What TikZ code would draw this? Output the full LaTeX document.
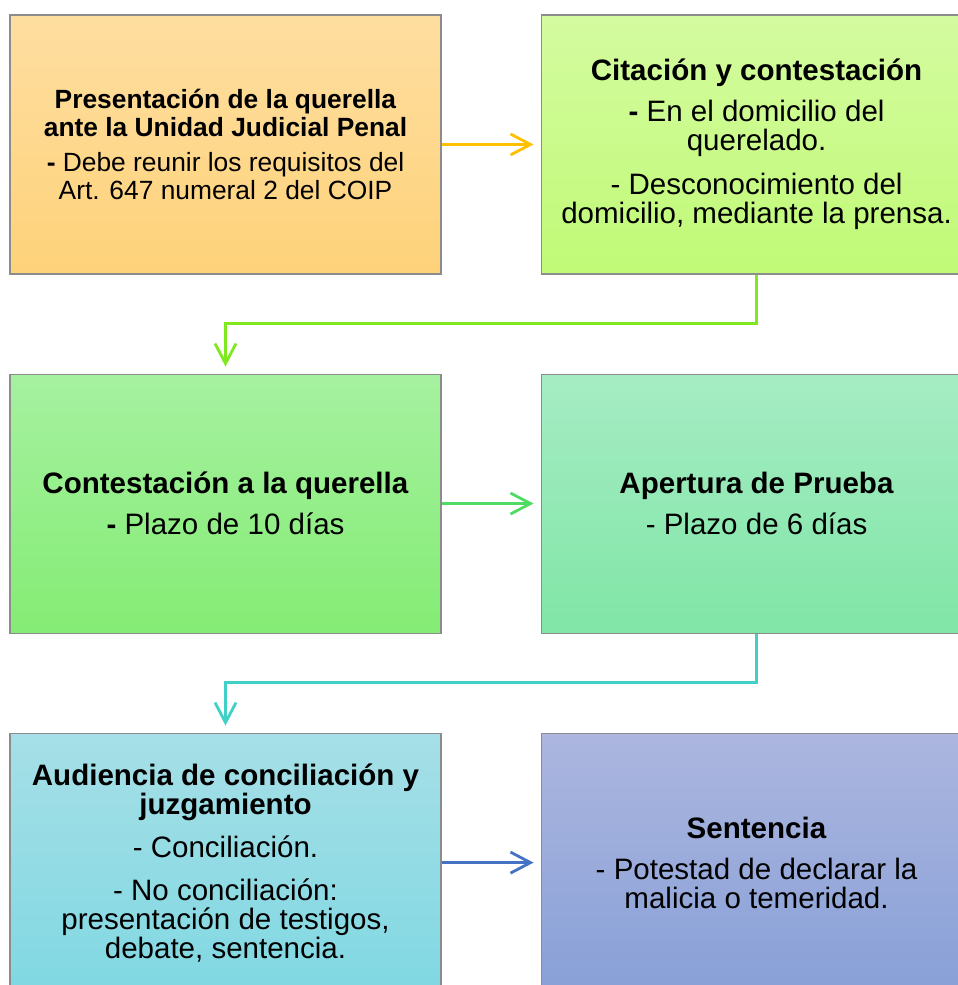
\documentclass[tikz,border=0pt]{standalone}
\usepackage{fontspec}
\setmainfont{Liberation Sans}
\usetikzlibrary{arrows.meta,positioning}
\definecolor{naranjaA}{RGB}{254,222,160}
\definecolor{naranjaB}{RGB}{254,210,122}
\definecolor{limaA}{RGB}{212,251,160}
\definecolor{limaB}{RGB}{192,250,118}
\definecolor{verdeA}{RGB}{166,241,160}
\definecolor{verdeB}{RGB}{132,236,116}
\definecolor{mentaA}{RGB}{166,236,196}
\definecolor{mentaB}{RGB}{128,230,166}
\definecolor{celesteA}{RGB}{166,223,231}
\definecolor{celesteB}{RGB}{128,216,226}
\definecolor{azulA}{RGB}{172,182,223}
\definecolor{azulB}{RGB}{136,160,215}
\definecolor{flechaNar}{RGB}{255,192,0}
\definecolor{flechaLima}{RGB}{127,232,30}
\definecolor{flechaVerde}{RGB}{80,220,100}
\definecolor{flechaTurq}{RGB}{64,208,200}
\definecolor{flechaAzul}{RGB}{68,114,196}
\tikzset{%
  >={Straight Barb[length=4mm,width=4.2mm]},
  % estilo de las cajas
        paso/.style = {rectangle, draw=black!45, line width=0.6pt,
                       minimum width=8.62cm, minimum height=5.18cm,
                       align=center, inner sep=0pt,
                       font=\fontsize{16.8}{16.5}\selectfont},
     naranja/.style = {paso, top color=naranjaA, bottom color=naranjaB,
                       font=\fontsize{15}{15.9}\selectfont},
        lima/.style = {paso, top color=limaA, bottom color=limaB},
       verde/.style = {paso, top color=verdeA, bottom color=verdeB},
       menta/.style = {paso, top color=mentaA, bottom color=mentaB},
     celeste/.style = {paso, top color=celesteA, bottom color=celesteB},
        azul/.style = {paso, top color=azulA, bottom color=azulB},
     flecha/.style = {->, line width=1.6pt, shorten >=0.14cm},
}
\begin{document}
\begin{tikzpicture}[node distance=1.98cm]
  \useasboundingbox (0,0) rectangle (19.14,-19.70);
  % cajas
  \node (pres) [naranja] at (4.51,-2.89)
    {\textbf{Presentación de la querella}\\
     \textbf{ante la Unidad Judicial Penal}\\[4.5pt]
     \textbf{-} Debe reunir los requisitos del\\
     Art. 647 numeral 2 del COIP};
  \node (cit) [lima, right=of pres]
    {\textbf{Citación y contestación}\\[7pt]
     \textbf{-} En el domicilio del\\
     querelado.\\[8.5pt]
     - Desconocimiento del\\
     domicilio, mediante la prensa.};
  \node (cont) [verde, below=of pres]
    {\textbf{Contestación a la querella}\\[7pt]
     \textbf{-} Plazo de 10 días};
  \node (prueba) [menta, right=of cont]
    {\textbf{Apertura de Prueba}\\[7pt]
     - Plazo de 6 días};
  \node (aud) [celeste, below=of cont]
    {\textbf{Audiencia de conciliación y}\\
     \textbf{juzgamiento}\\[8.5pt]
     - Conciliación.\\[7.5pt]
     - No conciliación:\\
     presentación de testigos,\\
     debate, sentencia.};
  \node (sent) [azul, right=of aud]
    {\textbf{Sentencia}\\[7pt]
     - Potestad de declarar la\\
     malicia o temeridad.};

  % flechas
  \draw[flecha, flechaNar] (pres) -- (cit);
  \draw[flecha, flechaLima] (cit.south) -- ++(0,-0.98) -| (cont.north);
  \draw[flecha, flechaVerde] (cont) -- (prueba);
  \draw[flecha, flechaTurq] (prueba.south) -- ++(0,-0.98) -| (aud.north);
  \draw[flecha, flechaAzul] (aud) -- (sent);
\end{tikzpicture}
\end{document}
